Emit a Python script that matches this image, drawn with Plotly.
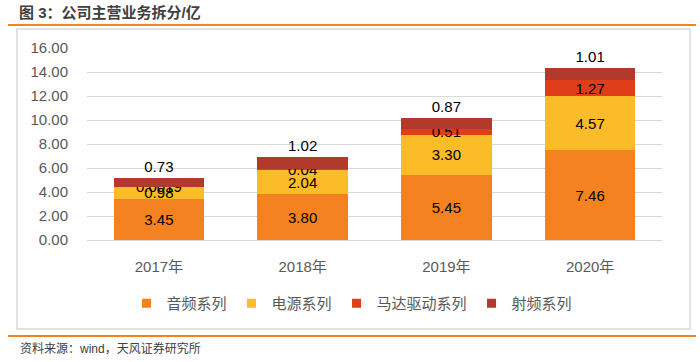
import plotly.graph_objects as go

years = ["2017年", "2018年", "2019年", "2020年"]
audio = [3.45, 3.80, 5.45, 7.46]
power = [0.98, 2.04, 3.30, 4.57]
motor = [0.0019, 0.04, 0.51, 1.27]
rf = [0.73, 1.02, 0.87, 1.01]

audio_lbl = ["3.45", "3.80", "5.45", "7.46"]
power_lbl = ["0.98", "2.04", "3.30", "4.57"]
motor_lbl = ["0.0019", "0.04", "0.51", "1.27"]
rf_lbl = ["0.73", "1.02", "0.87", "1.01"]

names = ["音频系列", "电源系列", "马达驱动系列", "射频系列"]
colors = ["#F58220", "#FBBC2A", "#E03E1A", "#B23A2C"]

FONT = "Liberation Sans, Arial, Noto Sans CJK SC"
W, H = 700, 362
L, R, T, B = 87, 662, 48, 240


def px(X):
    return (X - L) / (R - L)


def py(Y):
    return (B - Y) / (B - T)


fig = go.Figure()
series = [(audio, audio_lbl), (power, power_lbl), (motor, motor_lbl)]
for i, (vals, lbl) in enumerate(series):
    fig.add_trace(go.Bar(
        x=years, y=vals, name=names[i], marker=dict(color=colors[i], line=dict(width=0)),
        text=lbl, textposition="inside", constraintext="none", insidetextanchor="middle",
        textfont=dict(color="#000000", size=15, family=FONT), hoverinfo="skip",
        showlegend=False,
    ))
fig.add_trace(go.Bar(
    x=years, y=rf, name=names[3], marker=dict(color=colors[3], line=dict(width=0)),
    text=rf_lbl, textposition="outside", constraintext="none", cliponaxis=False,
    textfont=dict(color="#000000", size=15, family=FONT), hoverinfo="skip",
    showlegend=False,
))
# legend entries with small square markers
for i in range(4):
    fig.add_trace(go.Scatter(
        x=[None], y=[None], mode="markers", name=names[i],
        marker=dict(symbol="square", size=9, color=colors[i]), hoverinfo="skip",
    ))

shapes = [
    dict(type="line", xref="paper", yref="paper", x0=px(8), x1=px(696), y0=py(25), y1=py(25),
         line=dict(color="#F58220", width=2)),
    dict(type="rect", xref="paper", yref="paper", x0=px(17), x1=px(690), y0=py(29), y1=py(329),
         line=dict(color="#D9D9D9", width=1.5)),
    dict(type="line", xref="paper", yref="paper", x0=px(8), x1=px(696), y0=py(336), y1=py(336),
         line=dict(color="#F58220", width=2)),
]

annotations = [
    dict(text="<b>图 3：公司主营业务拆分/亿</b>", xref="paper", yref="paper", x=px(17), y=py(13),
         xanchor="left", yanchor="middle", showarrow=False,
         font=dict(size=15, color="#404040", family=FONT)),
    dict(text="资料来源：wind，天风证券研究所", xref="paper", yref="paper", x=px(18), y=py(348),
         xanchor="left", yanchor="middle", showarrow=False,
         font=dict(size=12, color="#404040", family=FONT)),
]

fig.update_layout(
    width=W, height=H,
    margin=dict(l=L, r=W - R, t=T, b=H - B, pad=0),
    barmode="stack", bargap=0.37,
    paper_bgcolor="white", plot_bgcolor="white",
    font=dict(family=FONT, color="#595959"),
    showlegend=True,
    legend=dict(orientation="h", x=px(352), xanchor="center", y=py(287), yanchor="top",
                font=dict(size=15, color="#595959", family=FONT), itemwidth=30,
                traceorder="normal", bgcolor="rgba(0,0,0,0)"),
    shapes=shapes, annotations=annotations,
)
fig.update_yaxes(range=[0, 16], dtick=2, tickformat=".2f", showgrid=True, gridcolor="#D9D9D9",
                 gridwidth=1, zeroline=True, zerolinecolor="#D9D9D9", zerolinewidth=1,
                 tickfont=dict(size=15, color="#595959", family=FONT), ticks="", showline=False,
                 ticklabelstandoff=18)
fig.update_xaxes(tickfont=dict(size=15, color="#595959", family=FONT), showline=False, ticks="",
                 ticklabelstandoff=16)

fig.write_html("out.html", config={"displayModeBar": False},
               post_script="document.body.style.margin='0';document.body.style.overflow='hidden';")
